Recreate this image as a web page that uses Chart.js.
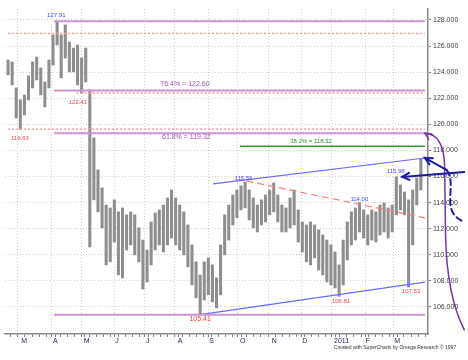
<!DOCTYPE html>
<html>
<head>
<meta charset="utf-8">
<script src="https://cdn.jsdelivr.net/npm/chart.js@4.4.1/dist/chart.umd.min.js"></script>
<style>
  html, body { margin: 0; padding: 0; background: #ffffff; }
  #wrap { width: 468px; height: 360px; }
</style>
</head>
<body>
<div id="wrap"><canvas id="priceChart" width="468" height="360"></canvas></div>
<script>
// Days are counted from 1 Mar 2010, one bar every 4 calendar days
const barStartDay = -13;
const barStepDays = 4;
const highs = [
  124.93, 124.78, 122.79, 121.87, 122.25, 123.71, 124.78, 125.16, 124.32, 123.25,
  124.93, 126.85, 127.91, 126.85, 127.62, 126.31, 125.85, 126.08, 125.09, 125.85,
  122.64, 118.96, 116.51, 115.13, 113.82, 113.59, 114.21, 113.29, 113.59, 113.06,
  113.29, 113.06, 112.06, 111.13, 110.37, 112.52, 113.21, 113.44, 113.82, 114.36,
  114.97, 114.36, 113.82, 113.29, 112.29, 110.76, 109.46, 108.46, 109.46, 109.76,
  109.23, 108.23, 110.76, 113.06, 113.82, 114.59, 114.97, 115.28, 115.56, 114.97,
  114.36, 113.82, 114.21, 114.59, 114.97, 115.51, 114.59, 113.82, 113.59, 114.36,
  114.97, 113.44, 112.52, 112.29, 112.52, 112.29, 111.91, 111.52, 111.13, 110.76,
  110.22, 109.23, 111.13, 112.52, 113.29, 113.59, 114.00, 113.44, 113.06, 113.44,
  113.29, 113.82, 113.97, 113.59, 113.82, 115.98, 115.36, 114.82, 114.21, 114.97,
  115.89, 117.35
];
const lows = [
  123.79, 123.02, 120.49, 119.63, 120.72, 121.87, 122.79, 123.40, 122.25, 121.33,
  122.79, 124.55, 126.08, 123.56, 125.09, 124.02, 124.02, 123.02, 122.41, 123.25,
  110.60, 114.21, 113.29, 112.06, 109.23, 109.46, 110.98, 108.46, 108.23, 110.37,
  110.76, 109.99, 109.46, 107.38, 107.92, 109.23, 110.37, 110.76, 110.22, 110.76,
  111.29, 110.76, 110.37, 109.99, 109.08, 107.69, 106.70, 105.41, 106.54, 106.93,
  106.39, 105.93, 106.93, 109.99, 111.13, 112.29, 112.83, 113.44, 113.59, 112.67,
  112.06, 111.75, 112.29, 112.52, 113.06, 113.29, 112.52, 111.75, 111.75, 112.06,
  112.29, 110.98, 110.22, 109.46, 109.23, 109.76, 108.84, 108.46, 107.92, 107.69,
  107.46, 106.81, 107.69, 109.61, 110.76, 111.13, 111.75, 111.29, 110.76, 111.13,
  110.98, 111.52, 111.75, 111.29, 111.75, 113.06, 113.44, 113.06, 107.53, 110.76,
  113.82, 114.97
];

// axis ticks
const monthDays = [0, 31, 61, 92, 122, 153, 184, 214, 245, 275, 306, 337, 365];
const monthLabels = ['M', 'A', 'M', 'J', 'J', 'A', 'S', 'O', 'N', 'D', '2011', 'F', 'M'];
const priceTicks = [106, 108, 110, 112, 114, 116, 118, 120, 122, 124, 126, 128];
const firstDay = -13;
const lastDay = 395;

// drawn levels
const fibLevels = [127.91, 122.60, 119.32, 105.41];
const fibFromDay = 32;
const swingLevels = [126.97, 122.41, 119.63];
const swingFromDays = [-13, 54, -13];
const retrace382 = 118.32;
const retraceFromDay = 214;
const upperChannel = [[187.6, 115.43], [395, 117.42]];
const lowerChannel = [[175, 105.41], [395, 107.9]];
const downTrend = [[220.3, 115.66], [395, 112.83]];

// notes: text, day, price
const noteTexts = ['127.91', '119.63', '122.41', '76.4% = 122.60', '61.8% = 119.32', '38.2% = 118.32',
  '115.56', '114.00', '115.98', '105.41', '106.81', '107.53'];
const noteDays = [34.2, -1.4, 55.4, 160.1, 161.5, 283.5, 217.4, 330.8, 366.4, 175.0, 312.9, 381.4];
const notePrices = [128.38, 118.96, 121.72, 123.06, 119.00, 118.73, 115.89, 114.28, 116.43, 105.09, 106.47, 107.23];
const noteKinds = ['high', 'low', 'low', 'fib', 'fib', 'fib38', 'high', 'high', 'high', 'lowBig', 'low', 'low'];

// hand drawn marks right of the price axis, as [day, price]
const purpleArc = [[395, 119.32], [413.2, 119.26], [414.2, 116.89], [415.2, 111.52], [416.2, 106.93], [433.5, 104.25]];
const navyArrowA = [[394.9, 117.43], [416.1, 116.51]];
const navyCurve = [[416.1, 116.51], [427.7, 115.36], [408.4, 113.29], [433.5, 112.52]];
const navyArrowB = [[372.7, 115.97], [433.5, 116.35]];

const noteStyle = {
  high: { color: '#4848ff', font: '6px Arial' },
  low: { color: '#ff3c3c', font: '6px Arial' },
  lowBig: { color: '#ff3c3c', font: '7px Arial' },
  fib: { color: '#a050b4', font: '7px Arial' },
  fib38: { color: '#1e9a1e', font: '6px Arial' }
};

function seg(points) {
  return points.map(p => ({ x: p[0], y: p[1] }));
}

function lineSet(points, color, width, dash) {
  return {
    type: 'line',
    data: seg(points),
    borderColor: color,
    borderWidth: width,
    borderDash: dash || [],
    pointRadius: 0,
    tension: 0,
    order: 1
  };
}

const datasets = [];
fibLevels.forEach(v => datasets.push(lineSet([[fibFromDay, v], [lastDay, v]], '#c994cf', 2)));
swingLevels.forEach((v, i) => datasets.push(lineSet([[swingFromDays[i], v], [lastDay, v]], '#ff9a9a', 1.5, [2, 2])));
datasets.push(lineSet([[retraceFromDay, retrace382], [lastDay, retrace382]], '#2aa02a', 1.5));
datasets.push(lineSet(upperChannel, '#6a6aff', 1.2));
datasets.push(lineSet(lowerChannel, '#6a6aff', 1.2));
datasets.push(lineSet(downTrend, '#ff7a7a', 1.2, [7, 4]));
datasets.push({
  type: 'bar',
  data: highs.map((h, i) => ({ x: barStartDay + i * barStepDays, y: [lows[i], h] })),
  backgroundColor: '#8e8e8e',
  borderWidth: 0,
  barThickness: 2.4,
  order: 10
});

function arrowHead(ctx, tip, from, len) {
  const a = Math.atan2(from[1] - tip[1], from[0] - tip[0]);
  ctx.beginPath();
  ctx.moveTo(tip[0] + len * Math.cos(a + 0.45), tip[1] + len * Math.sin(a + 0.45));
  ctx.lineTo(tip[0], tip[1]);
  ctx.lineTo(tip[0] + len * Math.cos(a - 0.45), tip[1] + len * Math.sin(a - 0.45));
  ctx.stroke();
}

const overlayPlugin = {
  id: 'overlay',
  afterDatasetsDraw(chart) {
    const { ctx, scales: { x, y } } = chart;
    ctx.save();
    ctx.textAlign = 'center';
    ctx.textBaseline = 'middle';
    noteTexts.forEach((t, i) => {
      const st = noteStyle[noteKinds[i]];
      ctx.font = st.font;
      ctx.fillStyle = st.color;
      ctx.fillText(t, x.getPixelForValue(noteDays[i]), y.getPixelForValue(notePrices[i]));
    });
    ctx.restore();
  },
  afterDraw(chart) {
    const { ctx, scales: { x, y } } = chart;
    const px = p => [x.getPixelForValue(p[0]), y.getPixelForValue(p[1])];
    ctx.save();
    ctx.lineCap = 'round';

    // purple arc
    const pa = purpleArc.map(px);
    ctx.strokeStyle = '#7a2fb0';
    ctx.lineWidth = 1.5;
    ctx.beginPath();
    ctx.moveTo(pa[0][0], pa[0][1]);
    ctx.quadraticCurveTo(pa[1][0], pa[1][1], pa[2][0], pa[2][1]);
    ctx.lineTo(pa[3][0], pa[3][1]);
    ctx.quadraticCurveTo(pa[4][0], pa[4][1], pa[5][0], pa[5][1]);
    ctx.stroke();
    arrowHead(ctx, pa[0], [pa[0][0] + 8, pa[0][1] + 5], 7);

    // navy arrows
    ctx.strokeStyle = '#1c1ca0';
    ctx.lineWidth = 2;
    const a1 = navyArrowA.map(px);
    ctx.beginPath();
    ctx.moveTo(a1[1][0], a1[1][1]);
    ctx.lineTo(a1[0][0], a1[0][1]);
    ctx.stroke();
    arrowHead(ctx, a1[0], a1[1], 8);

    const c = navyCurve.map(px);
    ctx.setLineDash([6, 4]);
    ctx.beginPath();
    ctx.moveTo(c[0][0], c[0][1]);
    ctx.bezierCurveTo(c[1][0], c[1][1], c[2][0], c[2][1], c[3][0], c[3][1]);
    ctx.stroke();
    ctx.setLineDash([]);

    const a2 = navyArrowB.map(px);
    ctx.beginPath();
    ctx.moveTo(a2[1][0], a2[1][1]);
    ctx.lineTo(a2[0][0], a2[0][1]);
    ctx.stroke();
    arrowHead(ctx, a2[0], a2[1], 8);

    // footer
    ctx.font = '5px Arial';
    ctx.fillStyle = '#303030';
    ctx.textAlign = 'center';
    ctx.textBaseline = 'middle';
    ctx.fillText('Created with SuperCharts by Omega Research \u00A9 1997', 395, 348);
    ctx.restore();
  }
};

new Chart(document.getElementById('priceChart'), {
  type: 'bar',
  data: { datasets: datasets },
  options: {
    responsive: false,
    animation: false,
    devicePixelRatio: 1,
    layout: { padding: { left: 5, top: 9, right: 0, bottom: 0 } },
    plugins: { legend: { display: false }, tooltip: { enabled: false } },
    scales: {
      x: {
        type: 'linear',
        min: firstDay,
        max: lastDay,
        afterBuildTicks: scale => {
          const ticks = monthDays.map(v => ({ value: v, major: true }));
          for (let d = -7; d <= 392; d += 7) {
            if (!monthDays.includes(d)) ticks.push({ value: d });
          }
          ticks.sort((a, b) => a.value - b.value);
          scale.ticks = ticks;
        },
        afterFit: scale => { scale.height = 26; },
        grid: {
          color: ctx => (ctx.tick && ctx.tick.major) ? '#cfcfcf' : 'rgba(0,0,0,0)',
          tickColor: '#808080',
          tickLength: 3,
          lineWidth: 1
        },
        border: { color: '#8a8a8a', width: 1.5, dash: [1, 2] },
        ticks: {
          autoSkip: false,
          maxRotation: 0,
          align: 'start',
          padding: 0,
          color: '#2a2a5a',
          font: { family: 'Arial', size: 7 },
          callback: value => {
            const i = monthDays.indexOf(value);
            return i >= 0 ? monthLabels[i] : '';
          }
        }
      },
      y: {
        position: 'right',
        min: 103.93,
        max: 128.84,
        afterBuildTicks: scale => { scale.ticks = priceTicks.map(v => ({ value: v })); },
        afterFit: scale => { scale.width = 40; },
        grid: { color: '#cfcfcf', tickColor: '#808080', tickLength: 3, lineWidth: 1 },
        border: { color: '#8a8a8a', width: 1.5, dash: [1, 2] },
        ticks: {
          padding: 2,
          color: '#404040',
          font: { family: 'Arial', size: 7 },
          callback: value => value.toFixed(3)
        }
      }
    }
  },
  plugins: [overlayPlugin]
});
</script>
</body>
</html>
